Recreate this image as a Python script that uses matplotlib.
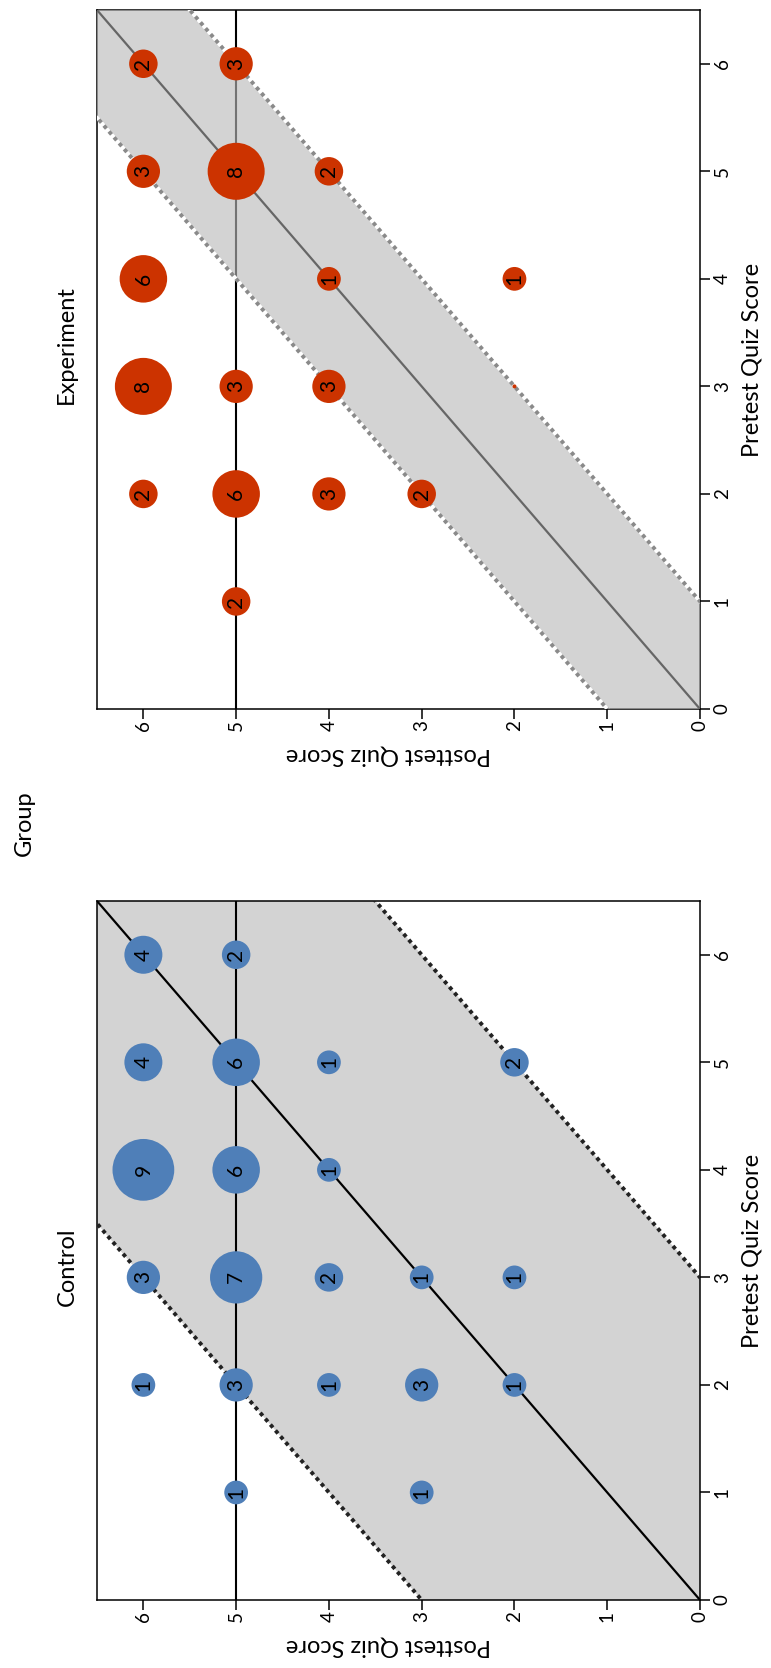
import matplotlib.pyplot as plt
import numpy as np

plt.rcParams['font.family'] = ['Lato', 'DejaVu Sans']

# Control group: pretest score, posttest score, number of students
ctrl_pre = [6, 6, 5, 5, 5, 5, 4, 4, 4, 3, 3, 3, 3, 3, 2, 2, 2, 2, 2, 1, 1]
ctrl_post = [6, 5, 6, 5, 4, 2, 6, 5, 4, 6, 5, 4, 3, 2, 6, 5, 4, 3, 2, 5, 3]
ctrl_n = [4, 2, 4, 6, 1, 2, 9, 6, 1, 3, 7, 2, 1, 1, 1, 3, 1, 3, 1, 1, 1]

# Experiment group
exp_pre = [6, 6, 5, 5, 5, 4, 4, 4, 3, 3, 3, 3, 2, 2, 2, 2, 1]
exp_post = [6, 5, 6, 5, 4, 6, 4, 2, 6, 5, 4, 2, 6, 5, 4, 3, 5]
exp_n = [2, 3, 3, 8, 2, 6, 1, 1, 8, 3, 3, 0, 2, 6, 3, 2, 2]

ticks = [0, 1, 2, 3, 4, 5, 6]
target_score = 5

W, H = 771, 1668
fig = plt.figure(figsize=(W / 100, H / 100), dpi=100)


def px(x, y):
    # pixel position (from top-left) -> figure fraction
    return x / W, 1 - y / H


def panel(top, pre, post, n, band, color, faded):
    ax = fig.add_axes([97 / W, 1 - (top + 699) / H, 603 / W, 699 / H])
    # the whole chart is turned a quarter turn: posttest runs right-to-left, pretest upward
    ax.set_xlim(6.5, 0)
    ax.set_ylim(0, 6.5)

    span = np.array([-4.0, 11.0])
    ax.fill_betweenx(span, span - band, span + band, color='#d3d3d3', lw=0, zorder=1)
    ax.axvline(target_score, color='black', lw=1.5, zorder=2)

    if faded:
        # light wash over the band makes the score line grey inside it
        ax.fill_betweenx(span, span - band, span + band, color='#d3d3d3', alpha=0.55,
                         lw=0, zorder=3)
        line_col, dash_col = '#666666', '#8a8a8a'
        for d in (-band, band):
            ax.plot(span + d, span, color='white', lw=2.6, zorder=4)
    else:
        line_col, dash_col = 'black', '#222222'

    ax.plot(span, span, color=line_col, lw=1.6, zorder=4)
    for d in (-band, band):
        ax.plot(span + d, span, color=dash_col, lw=2.8, linestyle=(0, (1, 1)), zorder=4)

    n = np.array(n, dtype=float)
    diam = np.where(n > 0, 19 + 4.75 * n, 4) * 0.72
    ax.scatter(post, pre, s=diam ** 2, color=color, lw=0, zorder=5)
    for x, y, k in zip(post, pre, n):
        if k > 0:
            ax.text(x, y, str(int(k)), rotation=90, ha='center', va='center',
                    fontsize=15, zorder=6)

    ax.set_xticks(ticks)
    ax.set_yticks(ticks)
    ax.yaxis.tick_right()
    ax.tick_params(axis='both', direction='out', length=7, width=1.1,
                   labelsize=13.5, labelrotation=90)
    ax.tick_params(axis='x', pad=1)
    ax.tick_params(axis='y', pad=3)
    for lab in ax.get_yticklabels():
        lab.set_va('center')
    for s in ax.spines.values():
        s.set_linewidth(1.1)

    mid = top + 699 / 2
    fig.text(*px(388, top + 745), 'Posttest Quiz Score', rotation=180,
             ha='center', va='center', fontsize=17)
    fig.text(*px(752, mid), 'Pretest Quiz Score', rotation=90,
             ha='center', va='center', fontsize=17)
    return ax


panel(10, exp_pre, exp_post, exp_n, 1, '#cc3300', True)
panel(901, ctrl_pre, ctrl_post, ctrl_n, 3, '#4f7fb8', False)

fig.text(*px(66, 345), 'Experiment', rotation=90, ha='center', va='center', fontsize=17)
fig.text(*px(67, 1267), 'Control', rotation=90, ha='center', va='center', fontsize=17)
fig.text(*px(24, 823), 'Group', rotation=90, ha='center', va='center', fontsize=17)

fig.savefig('out.png', dpi=100)
